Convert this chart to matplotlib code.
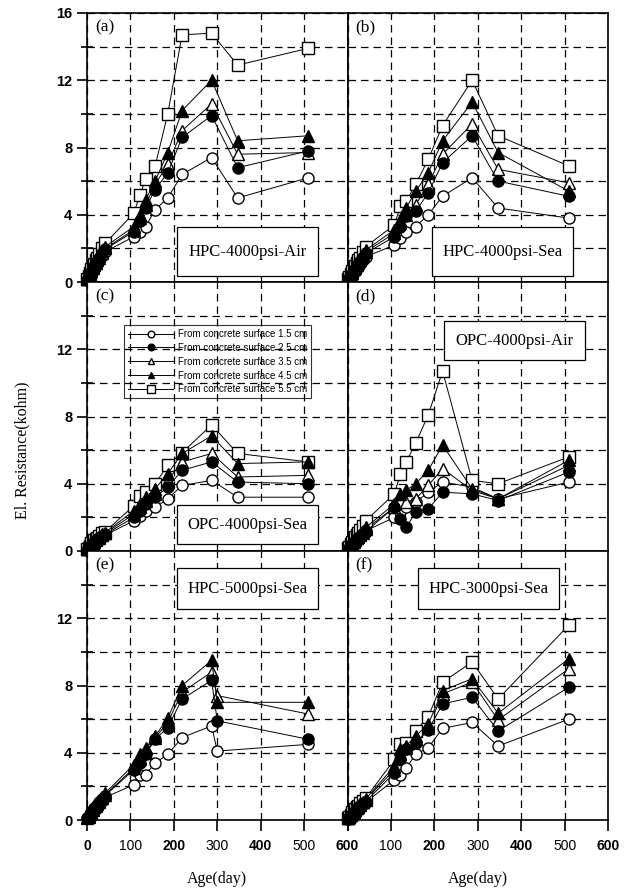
import matplotlib.pyplot as plt
from matplotlib.patches import Rectangle

plt.rcParams['font.family'] = ['Liberation Serif', 'DejaVu Serif']

# ages (day)
early = [1, 4, 7, 10, 14, 17, 21, 24, 28, 35, 42]
ages = early + [108, 122, 135, 157, 186, 219, 287, 347, 510]
ages_e = early + [108, 122, 135, 157, 186, 219, 287, 300, 510]

series_labels = ["From concrete surface 1.5 cm", "From concrete surface 2.5 cm",
                 "From concrete surface 3.5 cm", "From concrete surface 4.5 cm",
                 "From concrete surface 5.5 cm"]

# (a) HPC-4000psi-Air
a_15 = [0.1, 0.25, 0.4, 0.55, 0.7, 0.85, 1.0, 1.15, 1.3, 1.55, 1.8,
        2.7, 3.0, 3.3, 4.3, 5.0, 6.4, 7.4, 5.0, 6.2]
a_25 = [0.1, 0.25, 0.45, 0.6, 0.8, 0.95, 1.1, 1.25, 1.4, 1.7, 1.95,
        3.0, 3.6, 4.4, 5.5, 6.5, 8.6, 9.9, 6.8, 7.8]
a_35 = [0.15, 0.3, 0.45, 0.65, 0.85, 1.0, 1.15, 1.3, 1.45, 1.75, 2.0,
        3.1, 3.8, 4.6, 5.8, 7.0, 9.0, 10.6, 7.6, 7.7]
a_45 = [0.15, 0.3, 0.5, 0.7, 0.9, 1.05, 1.2, 1.35, 1.55, 1.85, 2.1,
        3.3, 4.0, 4.9, 6.0, 7.7, 10.2, 12.0, 8.4, 8.7]
a_55 = [0.2, 0.35, 0.55, 0.75, 0.95, 1.1, 1.3, 1.45, 1.65, 2.0, 2.3,
        4.1, 5.2, 6.1, 6.9, 10.0, 14.7, 14.8, 12.9, 13.9]

# (b) HPC-4000psi-Sea
b_15 = [0.1, 0.2, 0.35, 0.45, 0.6, 0.7, 0.85, 0.95, 1.1, 1.3, 1.5,
        2.2, 2.6, 3.0, 3.3, 4.0, 5.1, 6.2, 4.4, 3.8]
b_25 = [0.1, 0.25, 0.4, 0.5, 0.7, 0.8, 0.95, 1.1, 1.25, 1.5, 1.7,
        2.7, 3.3, 3.9, 4.2, 5.3, 7.1, 8.7, 6.0, 5.1]
b_35 = [0.15, 0.25, 0.4, 0.55, 0.75, 0.85, 1.0, 1.15, 1.3, 1.55, 1.8,
        2.9, 3.5, 4.0, 4.6, 5.8, 7.6, 9.4, 6.7, 5.9]
b_45 = [0.15, 0.3, 0.45, 0.6, 0.8, 0.9, 1.05, 1.2, 1.35, 1.65, 1.9,
        3.1, 3.7, 4.4, 5.4, 6.5, 8.4, 10.7, 7.7, 5.4]
b_55 = [0.2, 0.3, 0.5, 0.65, 0.85, 0.95, 1.15, 1.3, 1.45, 1.8, 2.1,
        3.4, 4.5, 4.8, 5.8, 7.3, 9.3, 12.0, 8.7, 6.9]

# (c) OPC-4000psi-Sea
c_15 = [0.05, 0.15, 0.25, 0.35, 0.45, 0.5, 0.6, 0.65, 0.75, 0.85, 0.95,
        1.8, 2.1, 2.4, 2.6, 3.1, 3.9, 4.2, 3.2, 3.2]
c_25 = [0.05, 0.15, 0.25, 0.35, 0.45, 0.55, 0.6, 0.7, 0.8, 0.9, 1.0,
        2.0, 2.4, 2.8, 3.2, 3.8, 4.8, 5.3, 4.1, 4.0]
c_35 = [0.1, 0.2, 0.3, 0.4, 0.5, 0.55, 0.65, 0.75, 0.8, 0.95, 1.05,
        2.2, 2.6, 3.0, 3.4, 4.2, 5.3, 5.8, 4.4, 4.5]
c_45 = [0.1, 0.2, 0.3, 0.4, 0.5, 0.6, 0.7, 0.75, 0.85, 1.0, 1.1,
        2.4, 2.8, 3.2, 3.7, 4.6, 5.8, 6.85, 5.2, 5.3]
c_55 = [0.1, 0.2, 0.3, 0.45, 0.55, 0.65, 0.7, 0.8, 0.9, 1.05, 1.15,
        2.7, 3.3, 3.5, 4.0, 5.1, 5.85, 7.5, 5.8, 5.3]

# (d) OPC-4000psi-Air
d_15 = [0.05, 0.15, 0.3, 0.4, 0.5, 0.6, 0.7, 0.8, 0.9, 1.05, 1.2,
        2.0, 2.3, 2.6, 2.9, 3.5, 4.1, 3.8, 3.1, 4.1]
d_25 = [0.05, 0.15, 0.3, 0.4, 0.5, 0.6, 0.7, 0.8, 0.9, 1.0, 1.15,
        2.6, 1.9, 1.4, 2.3, 2.5, 3.5, 3.4, 3.0, 4.7]
d_35 = [0.1, 0.2, 0.3, 0.45, 0.55, 0.65, 0.75, 0.85, 0.95, 1.1, 1.3,
        2.6, 3.0, 2.9, 3.1, 3.9, 4.9, 3.6, 3.1, 5.1]
d_45 = [0.1, 0.2, 0.35, 0.45, 0.6, 0.7, 0.8, 0.9, 1.0, 1.2, 1.4,
        2.8, 3.4, 3.6, 4.0, 4.8, 6.3, 3.7, 3.1, 5.4]
d_55 = [0.15, 0.25, 0.4, 0.55, 0.7, 0.85, 0.95, 1.1, 1.25, 1.5, 1.8,
        3.4, 4.6, 5.3, 6.4, 8.1, 10.7, 4.2, 4.0, 5.6]

# (e) HPC-5000psi-Sea (no 5.5 cm series)
e_15 = [0.1, 0.2, 0.3, 0.4, 0.55, 0.65, 0.75, 0.85, 0.95, 1.15, 1.35,
        2.1, 2.7, 2.7, 3.4, 3.9, 4.9, 5.6, 4.1, 4.5]
e_25 = [0.1, 0.2, 0.35, 0.45, 0.6, 0.7, 0.8, 0.9, 1.05, 1.25, 1.45,
        3.0, 3.4, 3.9, 4.8, 5.5, 7.2, 8.3, 5.9, 4.8]
e_35 = [0.1, 0.2, 0.35, 0.5, 0.6, 0.75, 0.85, 0.95, 1.1, 1.3, 1.5,
        3.1, 3.6, 4.0, 4.9, 5.8, 7.6, 8.8, 7.4, 6.3]
e_45 = [0.15, 0.25, 0.4, 0.5, 0.65, 0.8, 0.9, 1.0, 1.15, 1.35, 1.6,
        3.3, 3.9, 4.3, 5.0, 6.05, 8.0, 9.5, 7.0, 7.0]

# (f) HPC-3000psi-Sea
f_15 = [0.05, 0.15, 0.25, 0.35, 0.45, 0.55, 0.6, 0.7, 0.8, 0.95, 1.05,
        2.4, 2.7, 3.1, 3.9, 4.3, 5.45, 5.8, 4.4, 6.0]
f_25 = [0.05, 0.15, 0.25, 0.35, 0.45, 0.55, 0.65, 0.75, 0.85, 1.0, 1.1,
        2.8, 3.6, 4.2, 4.6, 5.35, 6.9, 7.3, 5.3, 7.9]
f_35 = [0.1, 0.2, 0.3, 0.4, 0.5, 0.6, 0.7, 0.8, 0.9, 1.05, 1.2,
        3.0, 3.9, 4.3, 4.8, 5.5, 7.5, 8.2, 5.95, 9.0]
f_45 = [0.1, 0.2, 0.3, 0.4, 0.5, 0.6, 0.7, 0.8, 0.95, 1.1, 1.25,
        3.2, 4.2, 4.4, 5.0, 5.7, 7.7, 8.4, 6.35, 9.6]
f_55 = [0.1, 0.2, 0.3, 0.45, 0.55, 0.65, 0.75, 0.85, 1.0, 1.15, 1.3,
        3.6, 4.5, 4.6, 5.3, 6.15, 8.2, 9.4, 7.2, 11.6]

panels = [
    ("(a)", "HPC-4000psi-Air", ages, [a_15, a_25, a_35, a_45, a_55], (0.345, 0.022, 0.54, 0.182)),
    ("(b)", "HPC-4000psi-Sea", ages, [b_15, b_25, b_35, b_45, b_55], (0.323, 0.022, 0.541, 0.182)),
    ("(c)", "OPC-4000psi-Sea", ages, [c_15, c_25, c_35, c_45, c_55], (0.344, 0.025, 0.542, 0.146)),
    ("(d)", "OPC-4000psi-Air", ages, [d_15, d_25, d_35, d_45, d_55], (0.372, 0.709, 0.539, 0.146)),
    ("(e)", "HPC-5000psi-Sea", ages_e, [e_15, e_25, e_35, e_45, None], (0.344, 0.783, 0.542, 0.153)),
    ("(f)", "HPC-3000psi-Sea", ages, [f_15, f_25, f_35, f_45, f_55], (0.272, 0.783, 0.540, 0.153)),
]

# open markers underneath, filled ones on top
styles = [
    dict(marker='o', mfc='white', zorder=2.4),
    dict(marker='o', mfc='black', zorder=2.8),
    dict(marker='^', mfc='white', zorder=2.5),
    dict(marker='^', mfc='black', zorder=2.9),
    dict(marker='s', mfc='white', zorder=2.6),
]

fig = plt.figure(figsize=(6.37, 8.93), dpi=100)

left0 = 87 / 637
w = 260.5 / 637
top = 1 - 13 / 893
h = 269 / 893

xt = [0, 100, 200, 300, 400, 500, 600]

for i, (tag, name, x, ys, box) in enumerate(panels):
    row, col = divmod(i, 2)
    ax = fig.add_axes([left0 + col * w, top - (row + 1) * h, w, h])
    ax.set_xlim(0, 600)
    ax.set_ylim(0, 16)
    ax.set_axisbelow(True)

    for y, st, lab in zip(ys, styles, series_labels):
        if y is None:
            continue
        ax.plot(x, y, color='black', lw=0.7, ms=8 if st['marker'] != 's' else 8.5,
                mec='black', mew=1.0, label=lab, clip_on=False, **st)

    ax.set_xticks(xt)
    ax.set_yticks([0, 4, 8, 12, 16] if row == 0 else [0, 4, 8, 12])
    ax.set_yticks([2, 6, 10, 14], minor=True)
    ax.grid(True, which='major', axis='x', color='black', lw=0.9, ls=(0, (6, 4)))
    ax.grid(True, which='both', axis='y', color='black', lw=0.9, ls=(0, (6, 4)))

    for s in ax.spines.values():
        s.set_linewidth(1.2)

    if col == 0:
        ax.tick_params(axis='y', which='major', direction='out', length=7, width=1.2)
        ax.tick_params(axis='y', which='minor', direction='inout', length=8, width=1.2)
        ax.set_yticklabels([str(v) for v in ax.get_yticks()],
                           fontfamily='Liberation Sans', fontweight='bold', fontsize=10.5)
    else:
        ax.tick_params(axis='y', which='both', left=False, labelleft=False)

    if row == 2:
        ax.tick_params(axis='x', direction='out', length=8, width=1.2, pad=6)
        labels = [str(v) for v in xt]
        if col == 1:
            labels[0] = ''
        ax.set_xticklabels(labels, fontfamily='Liberation Sans', fontsize=10)
        for k, t in enumerate(ax.get_xticklabels()):
            if k % 2 == 0:
                t.set_fontweight('bold')
    else:
        ax.tick_params(axis='x', bottom=False, labelbottom=False)

    ax.text(0.03, 0.975, tag, transform=ax.transAxes, ha='left', va='top', fontsize=12.5)

    bx, by, bw, bh = box
    ax.add_patch(Rectangle((bx, by), bw, bh, transform=ax.transAxes,
                           facecolor='white', edgecolor='black', lw=0.9, zorder=5))
    ax.text(bx + bw / 2, by + bh / 2, name, transform=ax.transAxes,
            ha='center', va='center', fontsize=12, zorder=6)

    if tag == "(c)":
        leg = ax.legend(loc='upper left', bbox_to_anchor=(0.143, 0.84), borderaxespad=0,
                        prop={'family': 'Liberation Sans', 'size': 7},
                        handlelength=4.6, markerscale=0.6, fancybox=False,
                        edgecolor='black', labelspacing=0.4, borderpad=0.4,
                        handletextpad=0.5)
        leg.get_frame().set_facecolor('none')
        leg.get_frame().set_linewidth(0.8)
        leg.set_zorder(7)

fig.text(0.035, 0.496, 'El. Resistance(kohm)', rotation=90, ha='center', va='center',
         fontsize=11.5)
fig.text(left0 + w / 2, 0.016, 'Age(day)', ha='center', va='center', fontsize=11.5)
fig.text(left0 + 1.5 * w, 0.016, 'Age(day)', ha='center', va='center', fontsize=11.5)

fig.savefig('out.png', dpi=100)
